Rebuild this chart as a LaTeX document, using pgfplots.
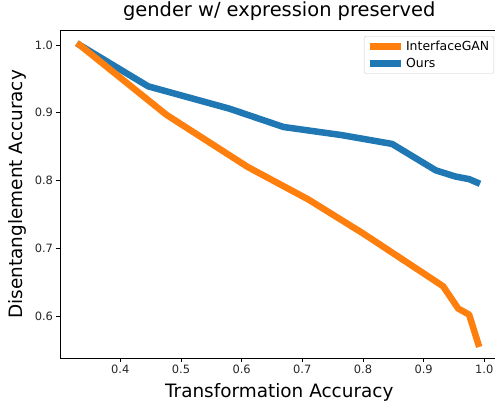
\documentclass[border=0pt]{standalone}
\usepackage{fontspec}
\setmainfont{DejaVu Sans}
\usepackage{pgfplots}
\pgfplotsset{compat=1.18}
\definecolor{mplorange}{HTML}{FF7F0E}
\definecolor{mplblue}{HTML}{1F77B4}
\begin{document}
\begin{tikzpicture}
\begin{axis}[
  at={(0,0)}, anchor=south west,
  scale only axis, width=438.5bp, height=328bp,
  xmin=0.3006, xmax=1.0234, ymin=0.5376, ymax=1.0217,
  xtick={0.4,0.5,0.6,0.7,0.8,0.9,1.0},
  ytick={0.6,0.7,0.8,0.9,1.0},
  /pgf/number format/.cd, fixed, fixed zerofill, precision=1, assume math mode=true,
  /pgfplots/.cd,
  tick pos=left, tick align=outside, major tick length=3.5bp,
  every tick/.style={black, line width=0.8bp},
  axis line style={black, line width=0.8bp},
  ticklabel style={font=\fontsize{11.5}{13}\selectfont, color=black!85},
  title={gender w/ expression preserved},
  title style={at={(axis description cs:0.5,1.0232)}, anchor=base, font=\fontsize{19.5}{23}\selectfont},
  xlabel={Transformation Accuracy},
  xlabel style={at={(axis description cs:0.5,-0.1195)}, anchor=base, font=\fontsize{18.5}{22}\selectfont},
  ylabel={Disentanglement Accuracy},
  ylabel style={at={(axis description cs:-0.086,0.5)}, anchor=base, font=\fontsize{18.5}{22}\selectfont},
  legend style={at={(axis description cs:1,1)}, xshift=-4.5bp, yshift=-5.8bp, anchor=north east,
    draw=black!20, rounded corners=2bp, fill=white, font=\fontsize{12.5}{14}\selectfont,
    inner xsep=2.5bp, inner ysep=2.5bp, row sep=2.5bp},
  legend cell align=left,
  legend image code/.code={\draw[#1, line cap=butt] (0bp,0bp) -- (31bp,0bp);},
  reverse legend,
]
\addplot[mplblue, line width=6.5bp, line cap=rect, line join=round] coordinates {
 (0.333,1.0) (0.446,0.939) (0.58,0.906) (0.669,0.879) (0.765,0.867)
 (0.848,0.854) (0.92,0.815) (0.952,0.806) (0.975,0.802) (0.988,0.797)};
\addlegendentry{Ours}
\addplot[mplorange, line width=6.5bp, line cap=rect, line join=round] coordinates {
 (0.333,1.0) (0.476,0.897) (0.61,0.82) (0.71,0.772) (0.8,0.722)
 (0.932,0.644) (0.957,0.611) (0.975,0.602) (0.99,0.559)};
\addlegendentry{InterfaceGAN}
\end{axis}
\pgfresetboundingbox
\useasboundingbox (-60bp,-44.7bp) rectangle (435bp,358.3bp);
\end{tikzpicture}
\end{document}
